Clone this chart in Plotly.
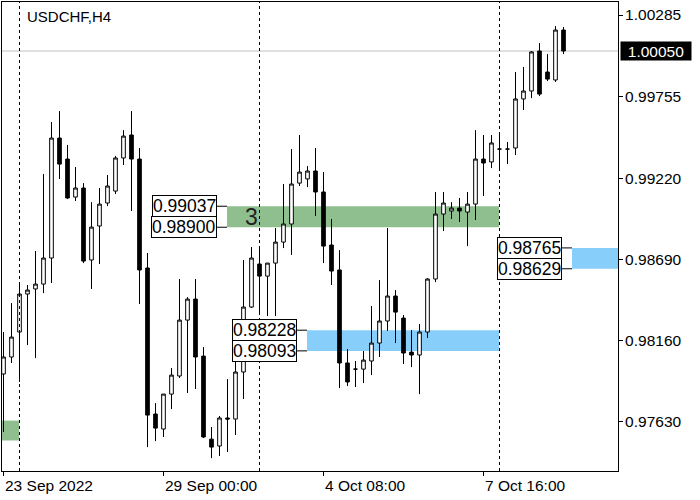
import plotly.graph_objects as go

symbol = "USDCHF,H4"

# H4 bars, oldest first (23 Sep 2022 16:00 .. 11 Oct 2022 08:00)
opens = [0.97942, 0.98053, 0.98216, 0.98464, 0.98497, 0.98529, 0.98699, 0.99482, 0.99345, 0.99097,
         0.99156, 0.98686, 0.98908, 0.99058, 0.99136, 0.99352, 0.99502, 0.99345, 0.98634, 0.97681,
         0.97583, 0.97811, 0.97929, 0.98294, 0.98431, 0.98059, 0.97517, 0.97472, 0.97655, 0.97648,
         0.97955, 0.98379, 0.98660, 0.98581, 0.98666, 0.98803, 0.98921, 0.99188, 0.99215, 0.99267,
         0.99130, 0.98784, 0.98621, 0.98014, 0.97974, 0.97974, 0.98027, 0.98144, 0.98288, 0.98451,
         0.98307, 0.98085, 0.98066, 0.98216, 0.98562, 0.98986, 0.99006, 0.99025, 0.98999, 0.99051,
         0.99345, 0.99326, 0.99410, 0.99410, 0.99417, 0.99737, 0.99789, 1.00050, 0.99913, 0.99861,
         1.00187]
highs = [0.98216, 0.98405, 0.98523, 0.98523, 0.98745, 0.99247, 0.99587, 0.99658, 0.99437, 0.99293,
         0.99188, 0.99064, 0.99156, 0.99241, 0.99365, 0.99534, 0.99658, 0.99417, 0.98732, 0.97752,
         0.97811, 0.97981, 0.98562, 0.98444, 0.98562, 0.98118, 0.97596, 0.97668, 0.97909, 0.98209,
         0.98686, 0.98771, 0.98777, 0.98666, 0.98895, 0.99182, 0.99410, 0.99502, 0.99299, 0.99417,
         0.99260, 0.98954, 0.98751, 0.98105, 0.98027, 0.98092, 0.98386, 0.98555, 0.98895, 0.98490,
         0.98327, 0.98229, 0.98268, 0.98568, 0.99130, 0.99130, 0.99064, 0.99091, 0.99130, 0.99534,
         0.99502, 0.99502, 0.99502, 0.99456, 0.99913, 0.99946, 1.00050, 1.00102, 1.00030, 1.00213,
         1.00207]
lows = [0.97563, 0.98014, 0.97890, 0.98131, 0.98046, 0.98470, 0.98536, 0.99215, 0.99084, 0.99071,
        0.98666, 0.98497, 0.98660, 0.99038, 0.99117, 0.99306, 0.99006, 0.98399, 0.97465, 0.97504,
        0.97531, 0.97713, 0.97916, 0.97818, 0.97844, 0.97524, 0.97393, 0.97407, 0.97433, 0.97544,
        0.97779, 0.98373, 0.98346, 0.98320, 0.98320, 0.98764, 0.98719, 0.99169, 0.99162, 0.98973,
        0.98666, 0.98523, 0.97850, 0.97864, 0.97857, 0.97883, 0.97935, 0.98053, 0.98223, 0.98144,
        0.98007, 0.97987, 0.97811, 0.98177, 0.98542, 0.98875, 0.98954, 0.98934, 0.98777, 0.98947,
        0.99104, 0.99286, 0.99286, 0.99312, 0.99371, 0.99665, 0.99743, 0.99756, 0.99854, 0.99848,
        1.00030]
closes = [0.98053, 0.98183, 0.98464, 0.98490, 0.98529, 0.98699, 0.99482, 0.99312, 0.99091, 0.99156,
          0.98679, 0.98901, 0.99051, 0.99169, 0.99352, 0.99495, 0.99345, 0.98621, 0.97674, 0.97589,
          0.97811, 0.97935, 0.98294, 0.98431, 0.98053, 0.97531, 0.97465, 0.97655, 0.97648, 0.97955,
          0.98379, 0.98699, 0.98581, 0.98666, 0.98803, 0.98921, 0.99182, 0.99260, 0.99267, 0.99130,
          0.98777, 0.98614, 0.98014, 0.97890, 0.97974, 0.98033, 0.98144, 0.98288, 0.98451, 0.98346,
          0.98079, 0.98066, 0.98216, 0.98562, 0.98986, 0.99058, 0.99025, 0.99006, 0.99051, 0.99345,
          0.99319, 0.99450, 0.99410, 0.99410, 0.99737, 0.99789, 1.00044, 0.99769, 0.99867, 1.00187,
          1.00050]
bars = list(range(len(opens)))

tick_bars = [0, 20, 40, 60]
tick_labels = ["23 Sep 2022", "29 Sep 00:00", "4 Oct 08:00", "7 Oct 16:00"]
week_starts = [2, 32, 62]

price_ticks = [1.00285, 0.99755, 0.99220, 0.98690, 0.98160, 0.97630]
last_price = 1.00050

# zones: top, bottom
green_zone = (0.99037, 0.98900)
blue_zone = (0.98228, 0.98093)
right_zone = (0.98765, 0.98629)
old_zone = (0.97638, 0.97508)

GREEN = "#8FBF8F"
BLUE = "#87CEFA"
FONT = "Liberation Sans"

x_range = [-0.1875, 76.8125]
y_range = [0.97309, 1.00370]

fig = go.Figure(go.Candlestick(
    x=bars, open=opens, high=highs, low=lows, close=closes,
    increasing=dict(line=dict(color="black", width=1), fillcolor="white"),
    decreasing=dict(line=dict(color="black", width=1), fillcolor="black"),
    whiskerwidth=0, showlegend=False, hoverinfo="skip",
))

shapes = []
annotations = []

# zone rectangles (start bar, end bar, zone, colour)
zone_spans = [
    (27.94, 61.94, green_zone, GREEN),
    (37.94, 61.94, blue_zone, BLUE),
    (71.06, x_range[1], right_zone, BLUE),
    (x_range[0], 1.94, old_zone, GREEN),
]
for x0, x1, (top, bot), col in zone_spans:
    shapes.append(dict(type="rect", xref="x", yref="y", x0=x0, x1=x1, y0=bot, y1=top,
                       fillcolor=col, line=dict(width=0), layer="below"))

# price labels with connectors
for x0, x1, (top, bot), col in zone_spans[:3]:
    for p in (top, bot):
        shapes.append(dict(type="line", xref="x", yref="y", xsizemode="pixel", xanchor=x0,
                           x0=-10, x1=0, y0=p, y1=p, line=dict(color="black", width=1)))
        annotations.append(dict(x=x0, y=p, xref="x", yref="y", xanchor="right", yanchor="middle",
                                xshift=-10, text=f"{p:.5f}", showarrow=False,
                                font=dict(family=FONT, size=17.5, color="black"),
                                bgcolor="white", bordercolor="black", borderwidth=1, borderpad=0))

annotations.append(dict(x=27.94, y=(green_zone[0] + green_zone[1]) / 2, xref="x", yref="y",
                        xanchor="center", yanchor="middle", xshift=24, text="3", showarrow=False,
                        font=dict(family=FONT, size=23, color="#222222")))

# weekly separators
for w in week_starts:
    shapes.append(dict(type="line", xref="x", yref="paper", x0=w, x1=w, y0=0, y1=1,
                       line=dict(color="black", width=1, dash="3px,3px")))

# last price line
shapes.append(dict(type="line", xref="paper", yref="y", x0=0, x1=1, y0=last_price, y1=last_price,
                   line=dict(color="#C0C0C0", width=1), layer="below"))

annotations.append(dict(x=1, y=last_price, xref="paper", yref="y", xanchor="left", yanchor="middle",
                        xshift=2, text=f"{last_price:.5f}", showarrow=False, width=68, height=16,
                        align="center", bgcolor="black", borderpad=1,
                        font=dict(family=FONT, size=15.5, color="white")))

for b, lab in zip(tick_bars, tick_labels):
    annotations.append(dict(x=b, y=0, xref="x", yref="paper", xanchor="left", yanchor="top",
                            yshift=-5, text=lab, showarrow=False, borderpad=0,
                            font=dict(family=FONT, size=15.5, color="black")))

annotations.append(dict(x=0, y=1, xref="paper", yref="paper", xanchor="left", yanchor="top",
                        xshift=24, yshift=-5, text=symbol, showarrow=False, borderpad=0,
                        font=dict(family=FONT, size=15, color="black")))

fig.update_layout(
    width=700, height=500,
    margin=dict(l=2, r=82, t=2, b=29),
    paper_bgcolor="white", plot_bgcolor="white",
    boxgap=0.35,
    shapes=shapes, annotations=annotations,
    xaxis=dict(range=x_range, rangeslider=dict(visible=False), showgrid=False, zeroline=False,
               tickvals=tick_bars, showticklabels=False, ticks="outside", ticklen=4,
               tickcolor="black", showline=True, mirror=True, linecolor="black", linewidth=1),
    yaxis=dict(range=y_range, side="right", showgrid=False, zeroline=False,
               tickvals=price_ticks, ticktext=[f"{p:.5f}" for p in price_ticks],
               ticks="outside", ticklen=4, tickcolor="black", ticklabelstandoff=-1,
               tickfont=dict(family=FONT, size=15.5, color="black"),
               showline=True, mirror=True, linecolor="black", linewidth=1),
)

# the page body has a default 8px margin; drop it so the chart sits at the window origin
fig.write_html("out.html", config={"displayModeBar": False},
               post_script="document.body.style.margin = '0';")
